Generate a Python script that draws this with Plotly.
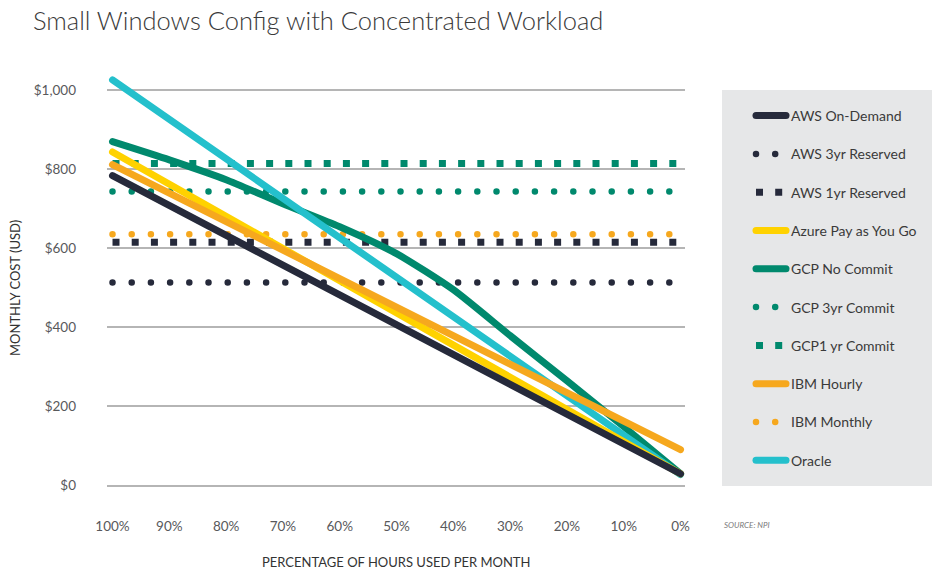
import plotly.graph_objects as go

# ---------------- data ----------------
hours_pct = [100, 90, 80, 70, 60, 50, 40, 30, 20, 10, 0]
tick_labels = ["100%", "90%", "80%", "70%", "60%", "50%", "40%", "30%", "20%", "10%", "0%"]

aws_on_demand = [783, 708, 632, 557, 482, 407, 331, 256, 181, 105, 30]
aws_3yr_reserved = [513, 513, 513, 513, 513, 513, 513, 513, 513, 513, 513]
aws_1yr_reserved = [615, 615, 615, 615, 615, 615, 615, 615, 615, 615, 615]
azure_payg = [843, 762, 680, 599, 518, 437, 355, 274, 193, 111, 30]
gcp_no_commit = [869, 823, 773, 712, 654, 586, 495, 379, 265, 149, 30]
gcp_3yr_commit = [743, 743, 743, 743, 743, 743, 743, 743, 743, 743, 743]
gcp_1yr_commit = [814, 814, 814, 814, 814, 814, 814, 814, 814, 814, 814]
ibm_hourly = [811, 739, 667, 595, 523, 451, 379, 307, 235, 163, 91]
ibm_monthly = [635, 635, 635, 635, 635, 635, 635, 635, 635, 635, 635]
oracle = [1025, 925, 826, 726, 626, 527, 427, 327, 227, 128, 28]

y_ticks = [0, 200, 400, 600, 800, 1000]
y_tick_labels = ["$0", "$200", "$400", "$600", "$800", "$1,000"]

# ---------------- styles ----------------
NAVY = "#262a3b"
YELLOW = "#ffd200"
GREEN = "#00896d"
ORANGE = "#f6a81e"
CYAN = "#24c0cc"

DOTS = "0px,19.2px"      # rendered with round caps -> round dots
SQUARES = "7px,12.2px"   # butt caps -> squares

FONT = "Lato, 'Open Sans', sans-serif"

# (name, values, color, dash, width, legend rank) in drawing order (bottom -> top)
series = [
    ("AWS 3yr Reserved", aws_3yr_reserved, NAVY, DOTS, 6.5, 2),
    ("AWS 1yr Reserved", aws_1yr_reserved, NAVY, SQUARES, 7, 3),
    ("GCP 3yr Commit", gcp_3yr_commit, GREEN, DOTS, 6.5, 6),
    ("GCP1 yr Commit", gcp_1yr_commit, GREEN, SQUARES, 7, 7),
    ("IBM Monthly", ibm_monthly, ORANGE, DOTS, 6.5, 9),
    ("GCP No Commit", gcp_no_commit, GREEN, "solid", 7, 5),
    ("Oracle", oracle, CYAN, "solid", 7, 10),
    ("Azure Pay as You Go", azure_payg, YELLOW, "solid", 7, 4),
    ("IBM Hourly", ibm_hourly, ORANGE, "solid", 7, 8),
    ("AWS On-Demand", aws_on_demand, NAVY, "solid", 7, 1),
]

fig = go.Figure()
for name, vals, color, dash, width, rank in series:
    shape = "spline" if name == "GCP No Commit" else "linear"
    fig.add_trace(go.Scatter(
        x=hours_pct, y=vals, name=name, mode="lines",
        line=dict(color=color, width=width, dash=dash, shape=shape, smoothing=0.6),
        legendrank=rank, legendgroup=name, hoverinfo="skip",
    ))

# plot area: x 107..685 px, y 70..488 px
PL, PR, PT, PB = 107, 685, 70, 488
PW, PH = PR - PL, PB - PT


def px_x(p):
    return (p - PL) / PW


def px_y(p):
    return (PB - p) / PH


fig.update_layout(
    width=932, height=571, autosize=False,
    margin=dict(l=PL, r=932 - PR, t=PT, b=571 - PB, pad=0, autoexpand=False),
    paper_bgcolor="white", plot_bgcolor="white",
    font=dict(family=FONT, color="#333333"),
    title=dict(
        text="Small Windows Config with Concentrated Workload",
        x=33 / 932, xref="container", xanchor="left",
        y=1 - 21 / 571, yref="container", yanchor="middle",
        font=dict(size=25.5, family=FONT, color="#3a3a3a", weight=300),
    ),
    xaxis=dict(
        range=[100.97, -0.79], tickvals=hours_pct, ticktext=tick_labels,
        showgrid=False, zeroline=False, showline=False, ticks="",
        tickfont=dict(size=13.5, color="#58595b", family=FONT),
        ticklabelstandoff=28, automargin=False,
    ),
    yaxis=dict(
        range=[-6, 1050], tickvals=y_ticks, ticktext=y_tick_labels,
        showgrid=True, gridcolor="#b5b5b5", gridwidth=1.5,
        zeroline=False, showline=False, ticks="",
        tickfont=dict(size=13.5, color="#58595b", family=FONT),
        ticklabelstandoff=30, automargin=False,
    ),
    legend=dict(
        x=px_x(751), xanchor="left", y=px_y(100), yanchor="top",
        bgcolor="rgba(0,0,0,0)", borderwidth=0,
        font=dict(size=14, color="#3a3a3a", family=FONT),
        traceorder="grouped", tracegroupgap=17.1, itemwidth=30,
    ),
    shapes=[dict(
        type="rect", xref="paper", yref="paper", layer="below",
        x0=px_x(722), x1=px_x(932), y0=px_y(486), y1=px_y(90),
        fillcolor="#e6e7e8", line=dict(width=0),
    )],
    annotations=[
        dict(text="<i>SOURCE: NPI</i>", xref="paper", yref="paper",
             x=px_x(722), y=px_y(525), xanchor="left", yanchor="middle",
             showarrow=False, font=dict(size=8, color="#7a7a7a", family=FONT)),
        # axis titles
        dict(text="PERCENTAGE OF HOURS USED PER MONTH", xref="paper", yref="paper",
             x=px_x(396), y=px_y(562), xanchor="center", yanchor="middle",
             showarrow=False, font=dict(size=13, color="#333333", family=FONT)),
        dict(text="MONTHLY COST (USD)", xref="paper", yref="paper", textangle=-90,
             x=px_x(15), y=px_y(288), xanchor="center", yanchor="middle",
             showarrow=False, font=dict(size=13, color="#333333", family=FONT)),
    ],
)

post = """
var gd = document.getElementById('{plot_id}');
function fixCaps(){
  gd.querySelectorAll('path.js-line').forEach(function(p){
    var d = (p.style.strokeDasharray || '').trim();
    if (d === '' || d === 'none' || d.indexOf('0') === 0) { p.style.strokeLinecap = 'round'; }
  });
}
fixCaps();
gd.on('plotly_afterplot', fixCaps);
"""

fig.write_html("out.html", post_script=post)
